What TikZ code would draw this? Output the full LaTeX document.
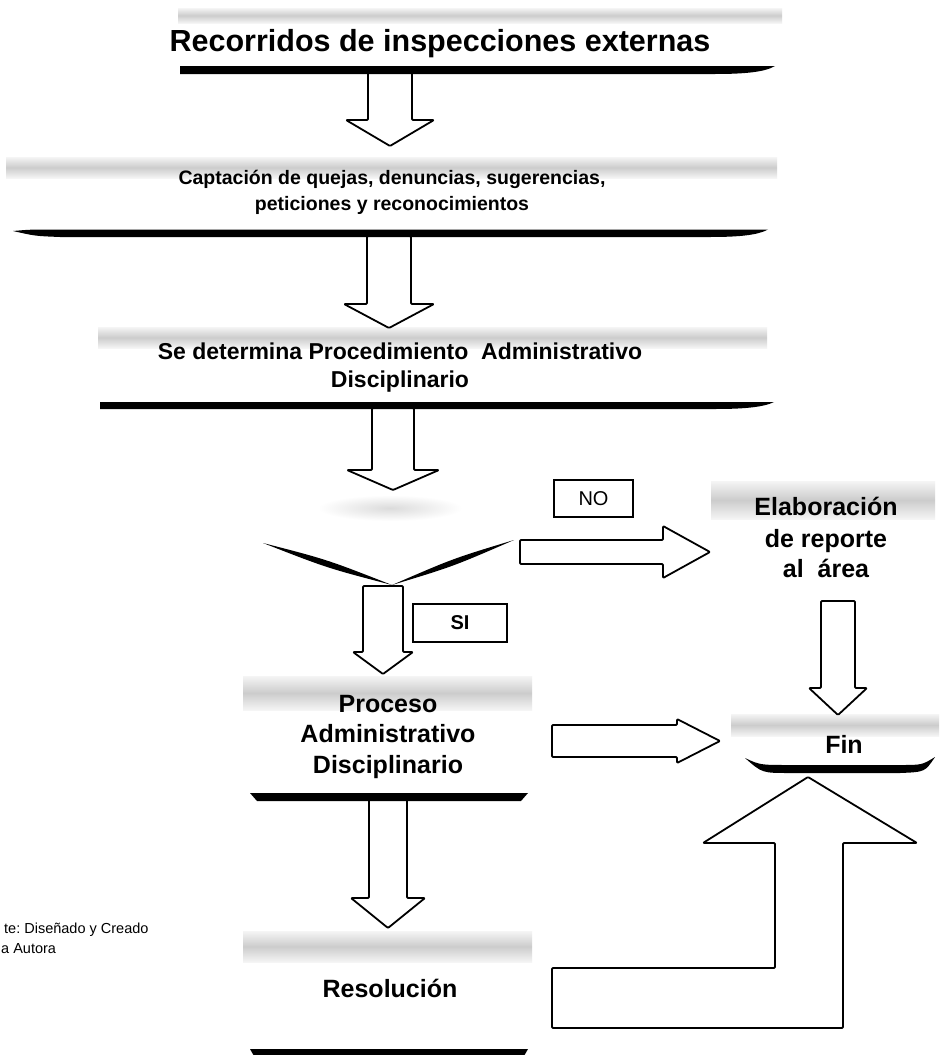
\documentclass[tikz,border=0pt]{standalone}
\usepackage{fontspec}
\setmainfont{Liberation Sans}
\newcommand{\DArr}[6]{%
 \draw[blk] ({#1-#3},#2) -- ({#1-#3},#5) -- ({#1-#4},#5) -- (#1,#6) -- ({#1+#4},#5) -- ({#1+#3},#5) -- ({#1+#3},#2) -- cycle;}
\newcommand{\RArr}[6]{%
 \draw[blk] (#1,{#2-#3}) -- (#5,{#2-#3}) -- (#5,{#2-#4}) -- (#6,#2) -- (#5,{#2+#4}) -- (#5,{#2+#3}) -- (#1,{#2+#3}) -- cycle;}
\begin{document}
\frenchspacing
\begin{tikzpicture}[x=1pt,y=-1pt,
  blk/.style={draw=black,line width=1.8pt,fill=white,line join=round,rounded corners=1pt},
  band/.style={top color=gray!8,bottom color=gray!8,middle color=gray!40},
  bandend/.style={fill=white,opacity=0.55},
  bar/.style={fill=black},
  ttl/.style={font=\bfseries\fontsize{30.5}{34}\selectfont,anchor=base,inner sep=0pt},
  lab/.style={font=\bfseries\fontsize{19.5}{24}\selectfont,anchor=base,inner sep=0pt},
  labm/.style={font=\bfseries\fontsize{23}{27}\selectfont,anchor=base,inner sep=0pt},
  labb/.style={font=\bfseries\fontsize{25}{30}\selectfont,anchor=base,inner sep=0pt},
  tag/.style={draw=black,line width=2.4pt,inner sep=0pt,font=\fontsize{20}{24}\selectfont},
  note/.style={font=\fontsize{14.5}{17}\selectfont,anchor=base west,inner sep=0pt}]
\useasboundingbox (0,0) rectangle (945,1055);
\fill[white] (0,0) rectangle (945,1055);
% bands
\shade[band] (178,8) rectangle (782,23);
\shade[band] (6,157) rectangle (777,178);
\shade[band] (98,327) rectangle (767,348);
\shade[inner color=gray!28,outer color=white] (390,508) ellipse [x radius=72pt,y radius=13pt];
\shade[band] (243,676) rectangle (532,710);
\shade[band] (711,481) rectangle (935,519);
\shade[band] (731,714) rectangle (939,736);
\shade[band] (243,931) rectangle (532,962);
% arrows
\DArr{390}{72}{22}{44}{120}{146}
\DArr{389}{236}{22}{45}{304}{328}
\DArr{393}{408}{21}{46}{470}{490}
\DArr{383}{586}{20}{30}{652}{674}
\DArr{388}{799}{19}{37}{898}{928}
\DArr{838}{601}{17}{29}{688}{715}
\RArr{520}{552}{12}{26}{663}{710}
\RArr{552}{741}{16}{22}{677}{720}
\draw[blk] (552,968) -- (775,968) -- (775,843) -- (703,843) -- (808,777) -- (917,843) -- (843,843) -- (843,1028) -- (552,1028) -- cycle;
% bars
\fill[bar] (180,66) -- (775,66) .. controls (765,72) and (745,74) .. (715,74) -- (180,74) -- cycle;
\fill[bar] (13,231) .. controls (30,229.5) .. (60,229.5) -- (768,229.5) .. controls (758,235) and (740,237) .. (710,237) -- (60,237) .. controls (35,236) .. (13,231) -- cycle;
\fill[bar] (100,402) -- (774,402) .. controls (764,407) and (745,409) .. (715,409) -- (100,409) -- cycle;
\fill[bar] (250,793) -- (528,793) -- (521,801) -- (257,801) -- cycle;
\fill[bar] (250,1049) -- (528,1049) -- (524,1056) -- (254,1056) -- cycle;
\fill[bar] (745,758) .. controls (760,765) .. (790,765) -- (900,765) .. controls (922,765) .. (935,757) .. controls (925,772) .. (900,773) -- (790,773) .. controls (762,773) .. (745,758) -- cycle;
% V
\fill[bar] (263,543) .. controls (327,559.5) .. (392,585) .. controls (327,568) .. (263,543) -- cycle;
\fill[bar] (392,585) .. controls (453,558.5) .. (514,540) .. controls (453,566.5) .. (392,585) -- cycle;
% texts
\node[ttl] (title) at (440,51) {Recorridos de inspecciones externas};
\node[lab] (c1) at (392,184) {Captación de quejas, denuncias, sugerencias,};
\node[lab] (c2) at (392,210) {peticiones y reconocimientos};
\node[labm] (s1) at (400,359) {Se determina Procedimiento\ \ Administrativo};
\node[labm] (s2) at (400,387) {Disciplinario};
\node[labb] (p1) at (388,712) {Proceso};
\node[labb] (p2) at (388,742) {Administrativo};
\node[labb] (p3) at (388,773) {Disciplinario};
\node[labb] (r1) at (390,997) {Resolución};
\node[labb] (e1) at (826,515) {Elaboración};
\node[labb] (e2) at (826,547) {de reporte};
\node[labb] (e3) at (826,577) {al\ \ área};
\node[labb] (f1) at (844,753) {Fin};
\node[tag,minimum width=79pt,minimum height=37pt] (no) at (593.5,498.5) {NO};
\node[tag,minimum width=94pt,minimum height=38pt,font=\bfseries\fontsize{20}{24}\selectfont] (si) at (460,623) {SI};
\node[note] (fn1) at (4,933) {te: Diseñado y Creado};
\node[note] (fn2) at (1,953) {a Autora};
\end{tikzpicture}
\end{document}
